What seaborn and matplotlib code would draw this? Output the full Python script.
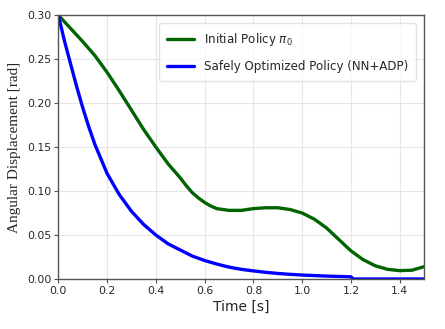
import matplotlib
matplotlib.use("Agg")
import matplotlib.pyplot as plt
import pandas as pd
import seaborn as sns

time_initial = [0.00, 0.05, 0.10, 0.15, 0.20, 0.25, 0.30, 0.35, 0.40, 0.45,
                0.50, 0.525, 0.55, 0.575, 0.60, 0.625, 0.65, 0.675, 0.70, 0.75,
                0.80, 0.85, 0.90, 0.95, 1.00, 1.05, 1.10, 1.15, 1.20, 1.25,
                1.30, 1.35, 1.40, 1.45, 1.50]
theta_initial = [0.300, 0.285, 0.270, 0.254, 0.235, 0.214, 0.192, 0.170, 0.150, 0.131,
                 0.115, 0.106, 0.098, 0.092, 0.087, 0.083, 0.080, 0.079, 0.078, 0.078,
                 0.080, 0.081, 0.081, 0.079, 0.075, 0.068, 0.058, 0.045, 0.032, 0.022,
                 0.015, 0.011, 0.0095, 0.010, 0.014]

time_safe = [0.00, 0.025, 0.05, 0.075, 0.10, 0.125, 0.15, 0.20, 0.25, 0.30, 0.35, 0.40, 0.45,
             0.50, 0.55, 0.60, 0.65, 0.70, 0.75, 0.80, 0.85, 0.90, 0.95,
             1.00, 1.05, 1.10, 1.15, 1.20, 1.21, 1.50]
theta_safe = [0.300, 0.271, 0.245, 0.219, 0.195, 0.173, 0.153, 0.120, 0.096, 0.077, 0.062, 0.050, 0.040,
              0.033, 0.026, 0.021, 0.017, 0.0135, 0.011, 0.0092, 0.0076, 0.0063, 0.0053,
              0.0045, 0.0039, 0.0033, 0.0029, 0.0025, 0.0, 0.0]

label_initial = r"Initial Policy $\pi_0$"
label_safe = "Safely Optimized Policy (NN+ADP)"


def main() -> None:
    sns.set_style("whitegrid", {"grid.color": "#e6e6e6", "axes.edgecolor": "#555555"})
    plt.rcParams["font.family"] = ["DejaVu Sans"]

    df_initial = pd.DataFrame({"t": time_initial, "theta": theta_initial})
    df_safe = pd.DataFrame({"t": time_safe, "theta": theta_safe})

    fig = plt.figure(figsize=(4.45, 3.29), dpi=100)
    ax = fig.add_axes([0.131, 0.152, 0.822, 0.802])
    sns.lineplot(data=df_initial, x="t", y="theta", ax=ax, color="#006400",
                 linewidth=2.4, label=label_initial, sort=False)
    sns.lineplot(data=df_safe, x="t", y="theta", ax=ax, color="#0000ff",
                 linewidth=2.4, label=label_safe, sort=False)

    ax.set_xlim(0, 1.5)
    ax.set_ylim(0, 0.30)
    ax.set_xticks([0.0, 0.2, 0.4, 0.6, 0.8, 1.0, 1.2, 1.4])
    ax.set_yticks([0.00, 0.05, 0.10, 0.15, 0.20, 0.25, 0.30])
    ax.set_yticklabels(["0.00", "0.05", "0.10", "0.15", "0.20", "0.25", "0.30"])
    ax.tick_params(axis="both", labelsize=7.8, length=3, width=0.8, color="#555555",
                   bottom=True, left=True, pad=2)
    for spine in ax.spines.values():
        spine.set_linewidth(1.0)

    ax.set_xlabel("Time [s]", fontsize=10, labelpad=3)
    ax.set_ylabel("Angular Displacement [rad]", fontsize=11,
                  family=["Liberation Serif", "DejaVu Serif"], labelpad=4)

    ax.legend(loc="upper right", fontsize=8.6, frameon=True, handlelength=2.3,
              labelspacing=1.0, borderpad=0.65, borderaxespad=0.7,
              edgecolor="#dddddd")

    fig.savefig("out.png", dpi=100)
    plt.close(fig)


if __name__ == "__main__":
    main()
